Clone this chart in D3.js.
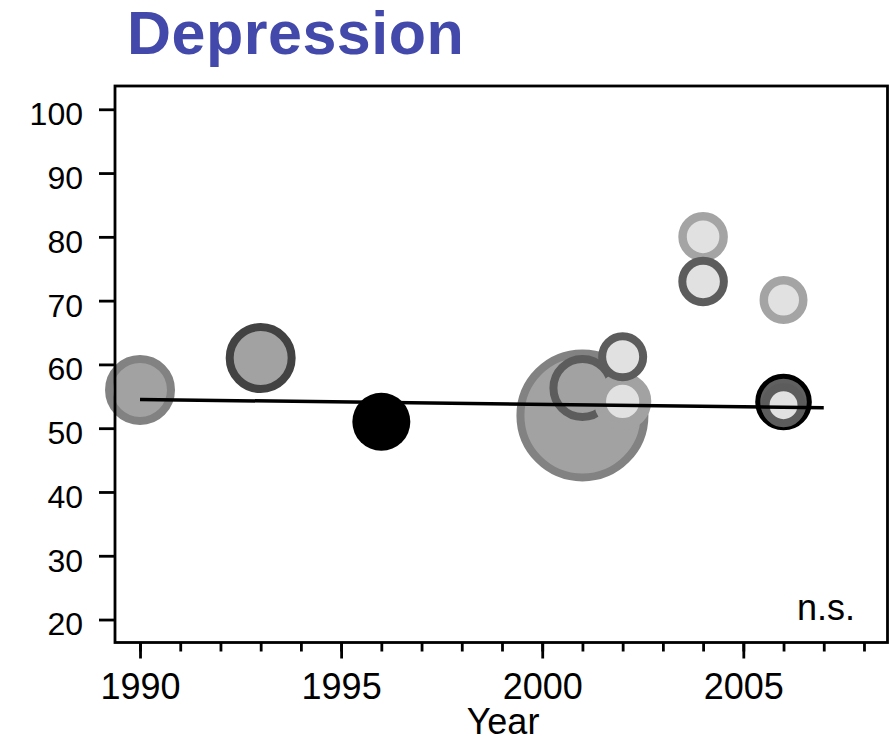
<!DOCTYPE html>
<html>
<head>
<meta charset="utf-8">
<script src="https://cdn.jsdelivr.net/npm/d3@7"></script>
<style>
  body { margin: 0; background: #fff; }
  svg { display: block; }
  text { font-family: "Liberation Sans", Arial, Helvetica, sans-serif; }
</style>
</head>
<body>
<svg id="chart" width="890" height="741"></svg>
<script>
// Study-level prevalence of depression (%) by year of publication
const studyYears  = [1990, 1993, 1996, 2001, 2001, 2002, 2002, 2004, 2004, 2006, 2006, 2006];
const prevalence  = [56.0, 61.0, 51.0, 52.0, 56.3, 54.2, 61.2, 80.0, 73.0, 70.1, 54.1, 53.6];
const sampleSizes = [281, 281, 193, 1000, 250, 188, 138, 141, 141, 132, 184, 111];
// category codes for the bubble body and its outline
const coreGroup = ["mid", "mid", "black", "mid", "mid", "pale", "pale", "pale", "pale", "pale", "dark", "pale"];
const ringGroup = ["grey", "charcoal", "black", "grey", "slate", "silverWide", "slate", "silver", "slate", "silver", "blackThin", "slate"];

// fitted trend (not significant)
const trendYears  = [1990, 2007];
const trendValues = [54.5, 53.2];

const yTickValues = [20, 30, 40, 50, 60, 70, 80, 90, 100];
const xMajorTicks = [1990, 1995, 2000, 2005];
const xMinorTicks = d3.range(1990, 2009);

const svg = d3.select("#chart");

const frame = { left: 115, right: 887.5, top: 86, bottom: 642.5 };

const x = d3.scaleLinear().domain([1989.378, 2008.585]).range([frame.left, frame.right]);
const y = d3.scaleLinear().domain([16.4, 103.65]).range([frame.bottom, frame.top]);
const radius = d3.scaleSqrt().domain([0, 1000]).range([0, 66]);

const coreColor = d3.scaleOrdinal()
  .domain(["mid", "black", "pale", "dark"])
  .range(["#a2a2a2", "#000000", "#e1e1e1", "#606060"]);
const ringColor = d3.scaleOrdinal()
  .domain(["grey", "charcoal", "black", "slate", "silver", "silverWide", "blackThin"])
  .range(["#828282", "#424242", "#000000", "#5c5c5c", "#a4a4a4", "#a2a2a2", "#000000"]);
const ringWidth = d3.scaleOrdinal()
  .domain(["grey", "charcoal", "black", "slate", "silver", "silverWide", "blackThin"])
  .range([8, 8, 0, 8, 8.5, 12, 5]);

const studies = studyYears.map((yr, i) => ({
  year: yr, value: prevalence[i], n: sampleSizes[i], core: coreGroup[i], ring: ringGroup[i]
}));

// bubbles
svg.append("g").selectAll("circle")
  .data(studies)
  .join("circle")
  .attr("cx", d => x(d.year))
  .attr("cy", d => y(d.value))
  .attr("r", d => radius(d.n) - ringWidth(d.ring) / 2)
  .attr("fill", d => coreColor(d.core))
  .attr("stroke", d => ringColor(d.ring))
  .attr("stroke-width", d => ringWidth(d.ring));

// trend line
svg.append("path")
  .datum(trendYears.map((yr, i) => [yr, trendValues[i]]))
  .attr("fill", "none")
  .attr("stroke", "#000")
  .attr("stroke-width", 3.5)
  .attr("d", d3.line().x(d => x(d[0])).y(d => y(d[1])));

// plot frame
svg.append("rect")
  .attr("x", frame.left).attr("y", frame.top)
  .attr("width", frame.right - frame.left)
  .attr("height", frame.bottom - frame.top)
  .attr("fill", "none")
  .attr("stroke", "#000")
  .attr("stroke-width", 2.8);

// y axis
const yAxis = svg.append("g")
  .attr("transform", `translate(${frame.left},0)`)
  .call(d3.axisLeft(y).tickValues(yTickValues).tickSize(16).tickPadding(16).tickFormat(d3.format("d")));
yAxis.select(".domain").remove();
yAxis.selectAll(".tick line").attr("stroke", "#000").attr("stroke-width", 2.8);
yAxis.selectAll(".tick text")
  .attr("font-size", 32)
  .attr("font-family", "Liberation Sans, Arial, sans-serif")
  .attr("fill", "#000")
  .attr("dy", "0.48em");

// x axis: yearly minor ticks and labelled major ticks
const xMinor = svg.append("g")
  .attr("transform", `translate(0,${frame.bottom})`)
  .call(d3.axisBottom(x).tickValues(xMinorTicks).tickSize(9).tickFormat(""));
xMinor.select(".domain").remove();
xMinor.selectAll(".tick line").attr("stroke", "#000").attr("stroke-width", 2.8);

const xMajor = svg.append("g")
  .attr("transform", `translate(0,${frame.bottom})`)
  .call(d3.axisBottom(x).tickValues(xMajorTicks).tickSize(16).tickPadding(15).tickFormat(d3.format("d")));
xMajor.select(".domain").remove();
xMajor.selectAll(".tick line").attr("stroke", "#000").attr("stroke-width", 2.8);
xMajor.selectAll(".tick text")
  .attr("font-size", 36)
  .attr("font-family", "Liberation Sans, Arial, sans-serif")
  .attr("fill", "#000");

// axis title
svg.append("text")
  .attr("x", 503).attr("y", 734)
  .attr("text-anchor", "middle")
  .attr("font-size", 36)
  .attr("fill", "#000")
  .text("Year");

// significance note
svg.append("text")
  .attr("x", 855).attr("y", 620)
  .attr("text-anchor", "end")
  .attr("font-size", 36)
  .attr("fill", "#000")
  .text("n.s.");

// panel title
svg.append("text")
  .attr("x", 127).attr("y", 54)
  .attr("font-size", 61)
  .attr("font-weight", "bold")
  .attr("letter-spacing", 0.5)
  .attr("fill", "#4349aa")
  .text("Depression");
</script>
</body>
</html>
